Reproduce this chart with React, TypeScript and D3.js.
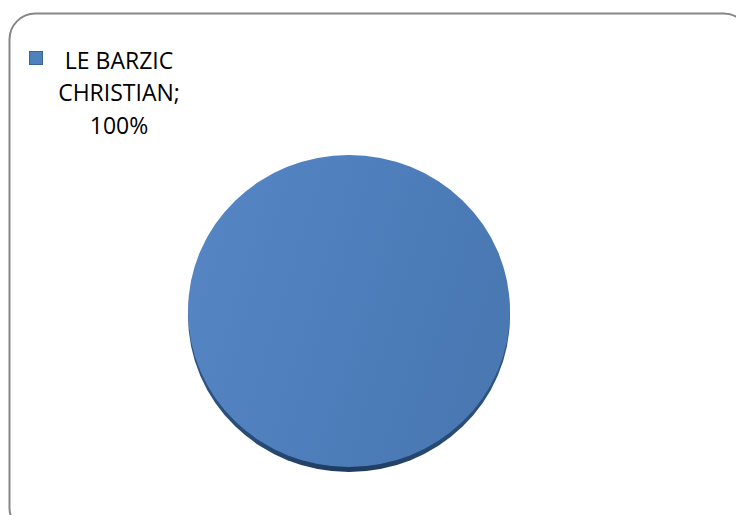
import React from "react";
import * as d3 from "d3";

const categories = ["LE BARZIC CHRISTIAN"];
const values = [100];
const legendLines = ["LE BARZIC", "CHRISTIAN;", "100%"];
const colors = ["#4F81BD"];

const W = 736;
const H = 515;

export default function App() {
  const cx = 349;
  const cy = 311;
  const rx = 161;
  const ry = 156;
  const depth = 5;

  const pie = d3.pie<number>().sort(null).value((d) => d);
  const arcs = pie(values);
  const arcGen = d3.arc<d3.PieArcDatum<number>>().innerRadius(0).outerRadius(1);
  const total = d3.sum(values);

  return (
    <svg
      width={W}
      height={H}
      style={{ position: "absolute", left: 0, top: 0, background: "#fff" }}
      fontFamily="'Open Sans', sans-serif"
    >
      <defs>
        <linearGradient id="topGrad" x1="0" y1="0" x2="1" y2="0.3">
          <stop offset="0" stopColor="#5686c3" />
          <stop offset="0.5" stopColor="#4f80bd" />
          <stop offset="1" stopColor="#4978b3" />
        </linearGradient>
        <linearGradient id="sideGrad" x1="0" y1="0" x2="1" y2="0">
          <stop offset="0" stopColor="#2f5583" />
          <stop offset="0.5" stopColor="#1f3b5e" />
          <stop offset="1" stopColor="#2f5583" />
        </linearGradient>
      </defs>
      <rect x={9.5} y={13.5} width={740} height={520} rx={26} ry={26} fill="#fff" stroke="#868686" strokeWidth={2} />

      {arcs.map((a, i) => (
        <path
          key={"side" + i}
          d={arcGen(a) || ""}
          transform={`translate(${cx},${cy + depth}) scale(${rx},${ry})`}
          fill="url(#sideGrad)"
        />
      ))}
      {arcs.map((a, i) => (
        <path
          key={"top" + i}
          d={arcGen(a) || ""}
          transform={`translate(${cx},${cy}) scale(${rx},${ry})`}
          fill={values.length === 1 ? "url(#topGrad)" : colors[i % colors.length]}
          data-label={categories[i]}
          data-pct={Math.round((a.value / total) * 100)}
        />
      ))}

      <rect x={29.5} y={51.5} width={13} height={13} fill={colors[0]} stroke="#3b6595" strokeWidth={1} />
      {legendLines.map((t, i) => (
        <text key={i} x={119} y={68.5 + i * 32.5} textAnchor="middle" fontSize={23} fill="#000">
          {t}
        </text>
      ))}
    </svg>
  );
}
